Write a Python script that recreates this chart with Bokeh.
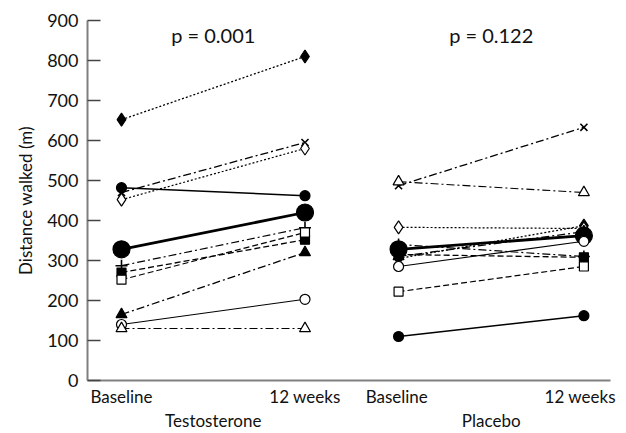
from bokeh.plotting import figure
from bokeh.models import Range1d, FixedTicker, LinearAxis
from bokeh.embed import file_html
from bokeh.resources import INLINE
from bokeh.core.properties import value

# ---- data ----
timepoints = ["Baseline", "12 weeks"]
groups = ["Testosterone", "Placebo"]
p_values = ["p = 0.001", "p = 0.122"]

# subjects: filled diamond, x, open diamond, filled circle, MEAN, plus,
#           filled square, open square, filled triangle, open circle, open triangle
testo_baseline = [652, 470, 452, 482, 328, 287, 270, 252, 165, 140, 130]
testo_12wk     = [810, 595, 580, 462, 420, 382, 352, 370, 320, 203, 130]

placebo_baseline = [305, 487, 383, 110, 328, 340, 315, 222, 310, 285, 497]
placebo_12wk     = [387, 633, 380, 162, 362, 310, 308, 285, 372, 348, 470]

y_ticks = [0, 100, 200, 300, 400, 500, 600, 700, 800, 900]

# ---- styles / layout ----
markers = ["diamond", "x", "diamond", "circle", "circle", "cross",
           "square", "square", "triangle", "circle", "triangle"]
filled = [True, False, False, True, True, False, True, False, True, False, False]
sizes = [13, 10, 13, 10, 17, 12, 9, 9, 11, 10, 11]
dashes = ["2 2", "8 3 2 3", "2 2", "solid", "solid", "8 3 2 3",
          "6 3", "6 3", "8 3 2 3", "solid", "8 3 2 3"]
widths = [1.3, 1.3, 1.2, 1.5, 2.8, 1.2, 1.3, 1.2, 1.3, 1.1, 1.1]

group_x = [(0.0, 1.0), (1.51, 2.52)]
label_x = [0.0, 1.0, 1.5, 2.5]
FONT = "Lato"
INK = "#111111"

p = figure(width=626, height=433, output_backend="svg", toolbar_location=None,
           x_range=Range1d(-0.1853, 2.665), y_range=Range1d(0, 900),
           min_border_left=87, min_border_right=16, min_border_top=20,
           min_border_bottom=52)
p.outline_line_color = None
p.grid.visible = False
p.background_fill_color = "white"

series = [(testo_baseline, testo_12wk), (placebo_baseline, placebo_12wk)]
for (xb, xw), (base, wk) in zip(group_x, series):
    for i in range(len(base)):
        p.line([xb, xw], [base[i], wk[i]], line_color="black",
               line_width=widths[i], line_dash=dashes[i])
    for i in range(len(base)):
        fc = "black" if filled[i] else "white"
        lw = 1.6 if markers[i] in ("x", "cross") else 1.2
        p.scatter([xb, xw], [base[i], wk[i]], marker=markers[i], size=sizes[i],
                  fill_color=fc, line_color="black", line_width=lw)

# p-values
p.text(x=[(a + b) / 2 for a, b in group_x], y=[865, 865], text=p_values,
       text_font=value(FONT), text_font_size="20px", text_color=INK,
       text_align="center", text_baseline="middle")

# y axis
ya = p.yaxis[0]
ya.ticker = FixedTicker(ticks=y_ticks)
ya.axis_label = "Distance walked (m)"
ya.axis_label_text_font = FONT
ya.axis_label_text_font_style = "normal"
ya.axis_label_text_font_size = "17px"
ya.axis_label_text_color = INK
ya.axis_label_standoff = 8
ya.major_label_text_font = FONT
ya.major_label_text_font_size = "18px"
ya.major_label_text_color = INK
ya.major_tick_in = 13
ya.major_tick_out = 0
ya.major_label_standoff = 9
ya.minor_tick_line_color = None
ya.axis_line_color = "#808080"
ya.axis_line_width = 2
ya.major_tick_line_color = "#444444"
ya.major_tick_line_width = 1.5

# x axis: time points
xa = p.xaxis[0]
xa.ticker = FixedTicker(ticks=label_x)
xa.major_label_overrides = {label_x[0]: timepoints[0], label_x[1]: timepoints[1],
                            label_x[2]: timepoints[0], label_x[3]: timepoints[1]}
xa.major_label_text_font = FONT
xa.major_label_text_font_size = "17px"
xa.major_label_text_color = INK
xa.major_tick_line_color = None
xa.minor_tick_line_color = None
xa.major_tick_in = 0
xa.major_tick_out = 0
xa.major_label_standoff = 5
xa.axis_line_color = "#808080"
xa.axis_line_width = 2

# x axis: group names
centers = [(a + b) / 2 for a, b in group_x]
ga = LinearAxis(ticker=FixedTicker(ticks=centers))
ga.major_label_overrides = {centers[0]: groups[0], centers[1]: groups[1]}
ga.major_label_text_font = FONT
ga.major_label_text_font_size = "17px"
ga.major_label_text_color = INK
ga.major_tick_line_color = None
ga.minor_tick_line_color = None
ga.major_tick_in = 0
ga.major_tick_out = 0
ga.major_label_standoff = 0
ga.axis_line_color = None
p.add_layout(ga, "below")

open("out.html", "w").write(file_html(p, INLINE))
